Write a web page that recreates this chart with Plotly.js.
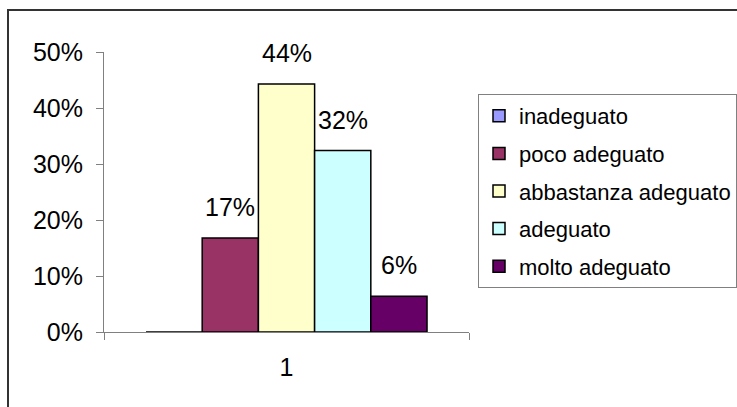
<!DOCTYPE html>
<html>
<head>
<meta charset="utf-8">
<script src="https://cdn.plot.ly/plotly-3.0.1.min.js"></script>
<style>html,body{margin:0;padding:0;background:#fff}#chart{width:737px;height:407px}</style>
</head>
<body>
<div id="chart"></div>
<script>
// ---- data ----
var categories = ["1"];
var seriesNames = ["inadeguato", "poco adeguato", "abbastanza adeguato", "adeguato", "molto adeguato"];
var inadeguato = [0];
var pocoAdeguato = [0.168];
var abbastanzaAdeguato = [0.443];
var adeguato = [0.324];
var moltoAdeguato = [0.064];
var yTickVals = [0, 0.1, 0.2, 0.3, 0.4, 0.5];

var seriesValues = [inadeguato, pocoAdeguato, abbastanzaAdeguato, adeguato, moltoAdeguato];
var colors = ["#9999FF", "#993366", "#FFFFCC", "#CCFFFF", "#660066"];
var FONT = "Arial, 'Liberation Sans', sans-serif";
var fsLegend = 22;
var fsTick = 25;
var bargap = 0.23;

var traces = seriesNames.map(function (name, i) {
  return {
    type: "bar",
    name: name,
    legendgroup: name,
    x: categories,
    y: seriesValues[i],
    marker: { color: colors[i], line: { color: "#000000", width: 1.5 } },
    hoverinfo: "name+y"
  };
});

// data labels, positioned at each bar's slot on the category axis
var n = seriesNames.length;
var slot = (1 - bargap) / n;
var annotations = [];
seriesValues.forEach(function (vals, i) {
  vals.forEach(function (v, j) {
    if (v > 0) {
      annotations.push({
        xref: "x", yref: "y",
        x: j + (i - (n - 1) / 2) * slot,
        y: v,
        text: Math.round(v * 100) + "%",
        showarrow: false,
        yanchor: "bottom",
        yshift: 15,
        font: { family: FONT, size: fsTick, color: "#000" }
      });
    }
  });
});

var L = 104, R = 268, T = 52, B = 75;
var pw = 737 - L - R, ph = 407 - T - B;

var layout = {
  width: 737, height: 407,
  margin: { l: L, r: R, t: T, b: B, pad: 0, autoexpand: false },
  paper_bgcolor: "#ffffff",
  plot_bgcolor: "#ffffff",
  font: { family: FONT, size: fsLegend, color: "#000" },
  barmode: "group",
  bargap: bargap,
  bargroupgap: 0,
  showlegend: true,
  legend: {
    x: (478 - L) / pw, xanchor: "left",
    y: (407 - B - 94) / ph, yanchor: "top",
    bordercolor: "#808080", borderwidth: 1,
    bgcolor: "#ffffff",
    font: { family: FONT, size: fsLegend, color: "#000" },
    tracegroupgap: 6,
    traceorder: "grouped"
  },
  xaxis: {
    type: "category",
    showline: true, linecolor: "#808080", linewidth: 1,
    ticks: "outside", tickson: "boundaries", ticklen: 7, tickcolor: "#808080",
    ticklabelstandoff: 13,
    showgrid: false, zeroline: false,
    tickfont: { family: FONT, size: fsTick, color: "#000" }
  },
  yaxis: {
    range: [0, 0.5],
    tickvals: yTickVals,
    tickformat: ".0%",
    showline: true, linecolor: "#808080", linewidth: 1,
    ticks: "outside", ticklen: 7, tickcolor: "#808080",
    ticklabelstandoff: 8,
    showgrid: false, zeroline: false,
    tickfont: { family: FONT, size: fsTick, color: "#000" }
  },
  annotations: annotations,
  shapes: [{
    type: "rect", xref: "paper", yref: "paper",
    x0: (8 - L) / pw, x1: (800 - L) / pw,
    y0: (407 - B - 500) / ph, y1: (407 - B - 10) / ph,
    line: { color: "#333333", width: 2 }, fillcolor: "rgba(0,0,0,0)"
  }]
};

Plotly.newPlot("chart", traces, layout, { displayModeBar: false, staticPlot: true });
</script>
</body>
</html>
